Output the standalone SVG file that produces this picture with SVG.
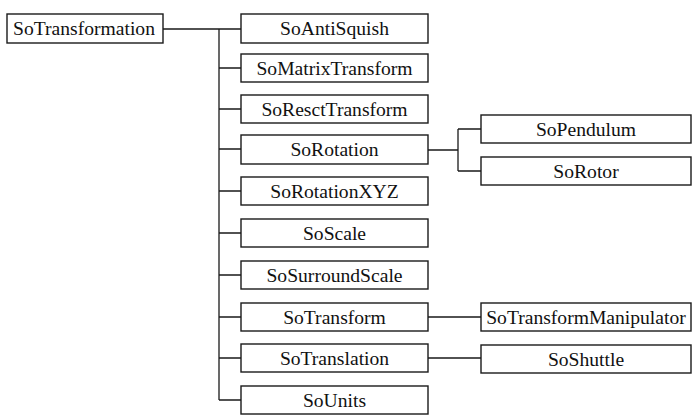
<svg xmlns="http://www.w3.org/2000/svg" width="696" height="417" viewBox="0 0 696 417">
<style>
.box{fill:#fff;stroke:#1a1a1a;stroke-width:1.4}
.lbl{font-family:"Liberation Serif","Times New Roman",serif;font-size:19.6px;fill:#111;text-anchor:middle}
.ln{fill:none;stroke:#1a1a1a;stroke-width:1.3}
</style>
<rect width="696" height="417" fill="#fff"/>
<g id="connectors">
<path class="ln" d="M163 29H241M219 29V400"/>
<path class="ln" d="M219 68H241M219 109H241M219 149H241M219 191H241M219 233H241M219 275H241M219 317H241M219 358H241M219 400H241"/>
<path class="ln" d="M428 150H458M458 129V171M458 129H481M458 171H481"/>
<path class="ln" d="M428 317H481M428 358H481"/>
</g>
<g id="SoTransformation"><rect class="box" x="7" y="14" width="156" height="29"/><text class="lbl" x="84" y="35">SoTransformation</text></g>
<g id="SoAntiSquish"><rect class="box" x="241" y="14" width="187" height="29"/><text class="lbl" x="334.5" y="35">SoAntiSquish</text></g>
<g id="SoMatrixTransform"><rect class="box" x="241" y="54" width="187" height="28"/><text class="lbl" x="334.5" y="75">SoMatrixTransform</text></g>
<g id="SoResctTransform"><rect class="box" x="241" y="95" width="187" height="28"/><text class="lbl" x="334.5" y="116">SoResctTransform</text></g>
<g id="SoRotation"><rect class="box" x="241" y="135" width="187" height="29"/><text class="lbl" x="334.5" y="156">SoRotation</text></g>
<g id="SoRotationXYZ"><rect class="box" x="241" y="177" width="187" height="28"/><text class="lbl" x="334.5" y="198">SoRotationXYZ</text></g>
<g id="SoScale"><rect class="box" x="241" y="219" width="187" height="28"/><text class="lbl" x="334.5" y="240">SoScale</text></g>
<g id="SoSurroundScale"><rect class="box" x="241" y="261" width="187" height="28"/><text class="lbl" x="334.5" y="282">SoSurroundScale</text></g>
<g id="SoTransform"><rect class="box" x="241" y="303" width="187" height="28"/><text class="lbl" x="334.5" y="324">SoTransform</text></g>
<g id="SoTranslation"><rect class="box" x="241" y="344" width="187" height="28"/><text class="lbl" x="334.5" y="365">SoTranslation</text></g>
<g id="SoUnits"><rect class="box" x="241" y="386" width="187" height="28"/><text class="lbl" x="334.5" y="407">SoUnits</text></g>
<g id="SoPendulum"><rect class="box" x="481" y="115" width="210" height="28"/><text class="lbl" x="586" y="136">SoPendulum</text></g>
<g id="SoRotor"><rect class="box" x="481" y="157" width="210" height="28"/><text class="lbl" x="586" y="178">SoRotor</text></g>
<g id="SoTransformManipulator"><rect class="box" x="481" y="303" width="210" height="28"/><text class="lbl" x="586" y="324">SoTransformManipulator</text></g>
<g id="SoShuttle"><rect class="box" x="481" y="345" width="210" height="28"/><text class="lbl" x="586" y="366">SoShuttle</text></g>
</svg>
